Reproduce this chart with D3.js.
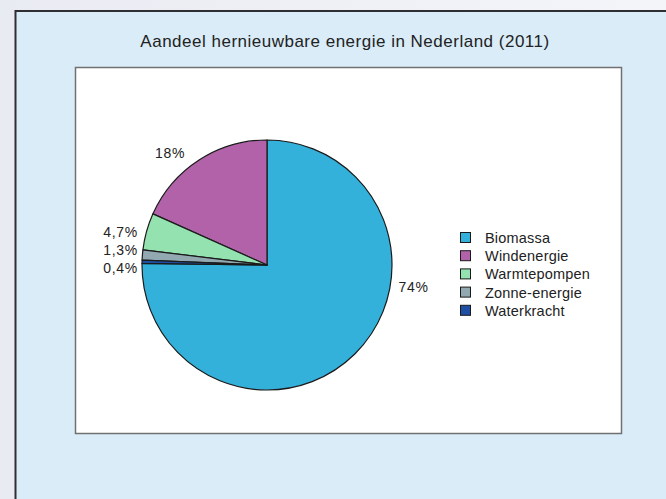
<!DOCTYPE html>
<html>
<head>
<meta charset="utf-8">
<script src="https://cdn.jsdelivr.net/npm/d3@7"></script>
<style>
  html, body { margin: 0; padding: 0; background: #f1f2f7; }
  svg { display: block; font-family: "Liberation Sans", Arial, sans-serif; }
</style>
</head>
<body>
<svg id="chart"></svg>
<script>
let width = 666;
let height = 499;

// data, legend order
let categories = ["Biomassa", "Windenergie", "Warmtepompen", "Zonne-energie", "Waterkracht"];
let shares = [74, 18, 4.7, 1.3, 0.4];
let labels = ["74%", "18%", "4,7%", "1,3%", "0,4%"];
let colours = ["#33b1db", "#b262a8", "#93e2b0", "#93a9b1", "#1f4fa5"];
// clockwise order from 12 o'clock
let pieOrder = ["Biomassa", "Waterkracht", "Zonne-energie", "Warmtepompen", "Windenergie"];

// label placement (angle in degrees clockwise from top, distance in radii, anchor)
let labelLayout = {
  "Biomassa":      {angle: 98.5, dist: 1.185, anchor: "middle"},
  "Windenergie":   {angle: 319,  dist: 1.183, anchor: "middle"},
  "Warmtepompen":  {angle: 284.3, dist: 1.066, anchor: "end"},
  "Zonne-energie": {angle: 276.6, dist: 1.039, anchor: "end"},
  "Waterkracht":   {angle: 268.7, dist: 1.033, anchor: "end"}
};

window.onload = function() {

  let svg = d3.select("#chart")
    .attr("width", width)
    .attr("height", height);

  // page background gradient on the left
  let defs = svg.append("defs");
  let grad = defs.append("linearGradient").attr("id", "bg")
      .attr("x1", 0).attr("x2", 1).attr("y1", 0).attr("y2", 0);
  grad.append("stop").attr("offset", "0%").attr("stop-color", "#e9ebf2");
  grad.append("stop").attr("offset", "100%").attr("stop-color", "#f4f5f9");
  svg.append("rect").attr("width", width).attr("height", height).attr("fill", "url(#bg)");

  // blue panel
  svg.append("rect")
    .attr("x", 15.5).attr("y", 11)
    .attr("width", width).attr("height", height)
    .attr("fill", "#d9ecf8")
    .attr("stroke", "#2f2f33")
    .attr("stroke-width", 2);

  svg.append("text")
    .attr("x", 345).attr("y", 47)
    .attr("text-anchor", "middle")
    .attr("font-size", "17px")
    .attr("letter-spacing", "0.5px")
    .attr("fill", "#222")
    .text("Aandeel hernieuwbare energie in Nederland (2011)");

  // white plot box
  svg.append("rect")
    .attr("x", 75.5).attr("y", 67.5)
    .attr("width", 546).attr("height", 366)
    .attr("fill", "#ffffff")
    .attr("stroke", "#707070")
    .attr("stroke-width", 1.5);

  let data = categories.map((c, i) => ({name: c, value: shares[i], label: labels[i], colour: colours[i]}));

  let cx = 267, cy = 265, r = 125;

  let pie = d3.pie()
    .value(d => d.value)
    .sort((a, b) => pieOrder.indexOf(a.name) - pieOrder.indexOf(b.name));

  let arc = d3.arc().innerRadius(0).outerRadius(r);

  let g = svg.append("g").attr("transform", "translate(" + cx + "," + cy + ")");

  g.selectAll("path")
    .data(pie(data))
    .enter()
    .append("path")
      .attr("d", arc)
      .attr("fill", d => d.data.colour)
      .attr("stroke", "#1a1a1a")
      .attr("stroke-width", 1.2)
      .attr("stroke-linejoin", "round");

  // labels
  g.selectAll(".lbl")
    .data(data)
    .enter()
    .append("text")
      .attr("class", "lbl")
      .attr("x", d => {
        let l = labelLayout[d.name];
        return Math.sin(l.angle * Math.PI / 180) * r * l.dist;
      })
      .attr("y", d => {
        let l = labelLayout[d.name];
        return -Math.cos(l.angle * Math.PI / 180) * r * l.dist;
      })
      .attr("dy", "0.35em")
      .attr("text-anchor", d => labelLayout[d.name].anchor)
      .attr("font-size", "14px")
      .attr("letter-spacing", "0.7px")
      .attr("fill", "#222")
      .text(d => d.label);

  // legend
  let legend = svg.selectAll(".legend")
    .data(data)
    .enter().append("g")
    .attr("class", "legend")
    .attr("transform", (d, i) => "translate(460," + (232 + i * 18.2) + ")");

  legend.append("rect")
    .attr("x", 0.5).attr("y", 0.5)
    .attr("width", 10).attr("height", 10)
    .attr("fill", d => d.colour)
    .attr("stroke", "#1a1a1a")
    .attr("stroke-width", 1);

  legend.append("text")
    .attr("x", 25)
    .attr("y", 6)
    .attr("dy", ".35em")
    .attr("font-size", "14.5px")
    .attr("letter-spacing", "0.2px")
    .attr("fill", "#222")
    .text(d => d.name);
}
</script>
</body>
</html>
